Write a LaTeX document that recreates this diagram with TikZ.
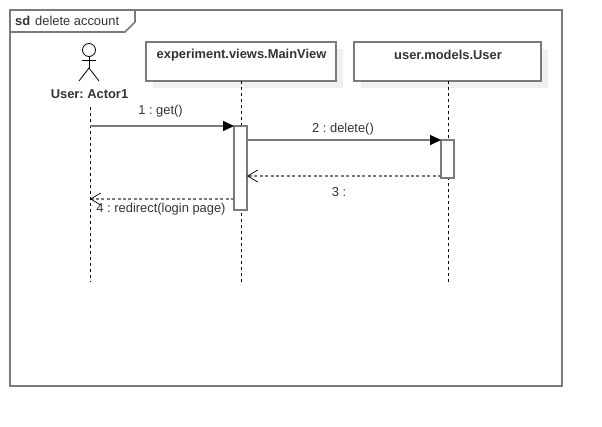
\documentclass[tikz,border=0pt]{standalone}
\usepackage{fontspec}
\setmainfont{Liberation Sans}
\usetikzlibrary{arrows.meta}
\definecolor{umlgray}{HTML}{7A7A7A}
\definecolor{shadowgray}{HTML}{F0F0F0}
\definecolor{textgray}{HTML}{333333}
\tikzset{
    classbox/.style={draw=umlgray, line width=1.6pt, fill=white, anchor=north west, inner sep=0pt, outer sep=0pt},
    classname/.style={font=\fontsize{12.9}{15}\selectfont\bfseries\frenchspacing, text=textgray, inner sep=0pt},
    msgname/.style={font=\fontsize{12.9}{15}\selectfont\frenchspacing, text=textgray, inner sep=0pt},
    barbox/.style={draw=umlgray, line width=1.6pt, fill=white, anchor=north west, inner sep=0pt, outer sep=0pt, minimum width=13pt},
    lifeline/.style={black, line width=0.8pt, dash pattern=on 3pt off 3pt},
    callmsg/.style={umlgray, line width=1.6pt, -{Triangle[black, length=11pt, width=10pt]}},
    replymsg/.style={umlgray, line width=1.5pt, dash pattern=on 3pt off 2.4pt, -{Straight Barb[black, length=10pt, width=12pt, line width=0.7pt]}}
}

\begin{document}
\begin{tikzpicture}[x=1pt, y=-1pt]
            \useasboundingbox (0,0) rectangle (602,426);

            \draw[umlgray, line width=1.6pt] (10,10) rectangle (562,386);
            \draw[umlgray, line width=1.6pt] (10,32) -- (125,32) -- (135,22) -- (135,10);
            \node[msgname, anchor=west] (title) at (35,20.5) {delete account};
            \node[classname, anchor=west] (sd) at (15,20.5) {sd};

            \fill[shadowgray] (153,49) rectangle (343,88);
            \fill[shadowgray] (361,49) rectangle (548,88);

            \node[classbox, minimum width=190pt, minimum height=39pt] (mainview) at (146,42) {};
            \node[classbox, minimum width=187pt, minimum height=39pt] (userbox) at (354,42) {};
            \node[classname] (mainviewname) at (241.5,55) {experiment.views.MainView};
            \node[classname] (username) at (448,55) {user.models.User};

            \draw[black, line width=0.8pt] (89,50) circle (6.5pt);
            \draw[black, line width=0.8pt] (89,56.5) -- (89,68);
            \draw[black, line width=0.8pt] (82,60) -- (96,60);
            \draw[black, line width=0.8pt] (79,81) -- (89,68) -- (99,81);
            \node[classname] (actor) at (89.5,94.5) {User: Actor1};

            \coordinate (actortop) at (90,107);
            \coordinate (actorend) at (90,282);
            \coordinate (mainend) at (241,282);
            \coordinate (userend) at (448,282);
            \draw[lifeline] (actortop) -- (actorend);
            \draw[lifeline] (mainview.south -| mainend) -- (mainend);
            \draw[lifeline] (userbox.south -| userend) -- (userend);

            \node[barbox, minimum height=84pt] (mainbar) at (234,126) {};
            \node[barbox, minimum height=38pt] (userbar) at (441,140) {};

            \coordinate (getstart) at (90,126);
            \coordinate (replyend) at (90,199);
            \draw[callmsg] (getstart) -- (mainbar.north west);
            \draw[callmsg] (mainbar.east |- userbar.north) -- (userbar.north west);
            \draw[replymsg] (userbar.west |- 0,176) -- (mainbar.east |- 0,176);
            \draw[replymsg] (mainbar.west |- replyend) -- (replyend);

            \node[msgname] (msgone) at (160.5,111.5) {1 : get()};
            \node[msgname] (msgtwo) at (343,129.5) {2 : delete()};
            \node[msgname] (msgthree) at (339,192.5) {3 :};
            \node[msgname] (msgfour) at (161,209.5) {4 : redirect(login page)};
        \end{tikzpicture}
\end{document}
